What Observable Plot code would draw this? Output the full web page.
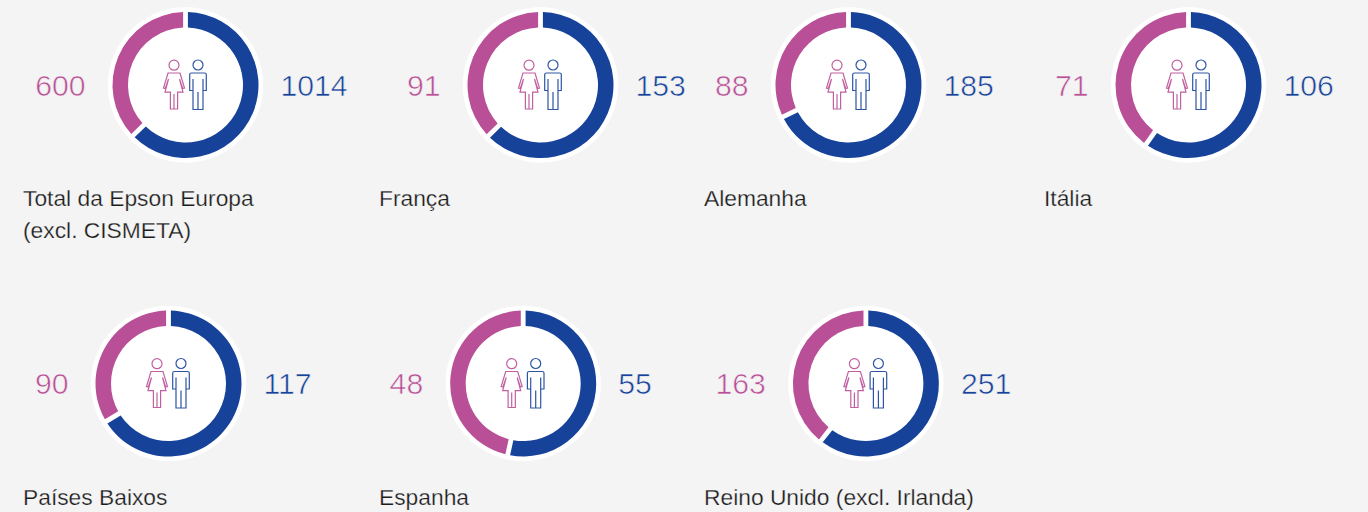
<!doctype html>
<html><head><meta charset="utf-8">
<script src="https://cdn.jsdelivr.net/npm/d3@7"></script>
<script src="https://cdn.jsdelivr.net/npm/@observablehq/plot@0.6"></script>
<style>html,body{margin:0;padding:0;background:#f4f4f4;overflow:hidden}svg{display:block}</style>
</head><body><div id="c"></div>
<script>
const countries = ["Total da Epson Europa\n(excl. CISMETA)","França","Alemanha","Itália","Países Baixos","Espanha","Reino Unido (excl. Irlanda)"];
const women = [600,91,88,71,90,48,163];
const men = [1014,153,185,106,117,55,251];
// share of the ring that is blue, as drawn in the picture
const menRingShare = [0.628,0.627,0.678,0.599,0.663,0.534,0.606];

// layout (kept apart from the data)
const centreX = [185,540,848,1188,168,522.7,865.4];
const centreY = [84.5,84.5,84.5,84.5,383,383,383];
const labelX = [22.5,378.5,703.5,1043.5,22.5,378.5,703.5];
const PINK="#b94f96", BLUE="#17429a", TEXT="#1c1c1c";
const FONT="'Liberation Sans', Arimo, sans-serif";

const rows = countries.map((country,i)=>({country,women:String(women[i]),men:String(men[i]),share:menRingShare[i],cx:centreX[i],cy:centreY[i],lx:labelX[i]}));

const arcSymbol = (a0,a1)=>({draw(ctx){
  d3.arc().innerRadius(57.5).outerRadius(73).padAngle(0.074).padRadius(65).context(ctx)({startAngle:a0,endAngle:a1});
}});
const arcs = rows.flatMap(d=>{
  const split = 2*Math.PI*d.share;
  return [
    Plot.dot([d],{x:"cx",y:"cy",r:1,symbol:arcSymbol(0,split),fill:BLUE}),
    Plot.dot([d],{x:"cx",y:"cy",r:1,symbol:arcSymbol(split,2*Math.PI),fill:PINK})
  ];
});

const femaleIcon = {draw(c){
  const ox=-11.5, dy=-19.8;
  c.moveTo(ox+5,dy); c.arc(ox,dy,5,0,2*Math.PI);
  c.moveTo(ox-6,-12); c.lineTo(ox+6,-12); c.lineTo(ox+10.5,3); c.lineTo(ox+8.7,3.5); c.lineTo(ox+5.5,-6);
  c.lineTo(ox+9,7.2); c.lineTo(ox+3.6,7.2); c.lineTo(ox+3.6,24); c.lineTo(ox-3.6,24); c.lineTo(ox-3.6,7.2);
  c.lineTo(ox-9,7.2); c.lineTo(ox-5.5,-6); c.lineTo(ox-8.7,3.5); c.lineTo(ox-10.5,3); c.closePath();
  c.moveTo(ox,9); c.lineTo(ox,24);
}};
const maleIcon = {draw(c){
  const ox=12.5, dy=-20;
  c.moveTo(ox+5,dy); c.arc(ox,dy,5,0,2*Math.PI);
  c.moveTo(ox-8.3,-10.5); c.quadraticCurveTo(ox-8.3,-12,ox-6.5,-12); c.lineTo(ox+6.5,-12); c.quadraticCurveTo(ox+8.3,-12,ox+8.3,-10.5);
  c.lineTo(ox+8.3,5.5); c.lineTo(ox+5,5.5); c.lineTo(ox+5,-6); c.lineTo(ox+5,24.5); c.lineTo(ox-5,24.5); c.lineTo(ox-5,-6); c.lineTo(ox-5,5.5);
  c.lineTo(ox-8.3,5.5); c.closePath();
  c.moveTo(ox,7); c.lineTo(ox,24.5);
}};

const thin = {stroke:"#f4f4f4",paintOrder:"fill"};
const chart = Plot.plot({
  width:1368,height:512,margin:0,
  style:{background:"transparent",fontFamily:FONT,overflow:"hidden"},
  x:{type:"identity",axis:null},
  y:{type:"identity",axis:null},
  marks:[
    Plot.dot(rows,{x:"cx",y:"cy",r:77.7,fill:"white"}),
    ...arcs,
    Plot.dot(rows,{x:"cx",y:"cy",r:1,symbol:femaleIcon,stroke:PINK,strokeWidth:1.2,strokeOpacity:0.9,fill:"none"}),
    Plot.dot(rows,{x:"cx",y:"cy",r:1,symbol:maleIcon,stroke:BLUE,strokeWidth:1.2,strokeOpacity:0.9,fill:"none"}),
    Plot.text(rows,{x:d=>d.cx-100,y:d=>d.cy+1,text:"women",textAnchor:"end",fontSize:30.2,fill:PINK,...thin,strokeWidth:0.6}),
    Plot.text(rows,{x:d=>d.cx+95,y:d=>d.cy+1,text:"men",textAnchor:"start",fontSize:30.2,fill:BLUE,...thin,strokeWidth:0.6}),
    Plot.text(rows,{x:"lx",y:d=>d.cy+98.5,text:"country",textAnchor:"start",lineAnchor:"top",fontSize:22.8,lineHeight:1.41,fill:TEXT,...thin,strokeWidth:0.25})
  ]
});
document.getElementById("c").append(chart);
</script></body></html>
